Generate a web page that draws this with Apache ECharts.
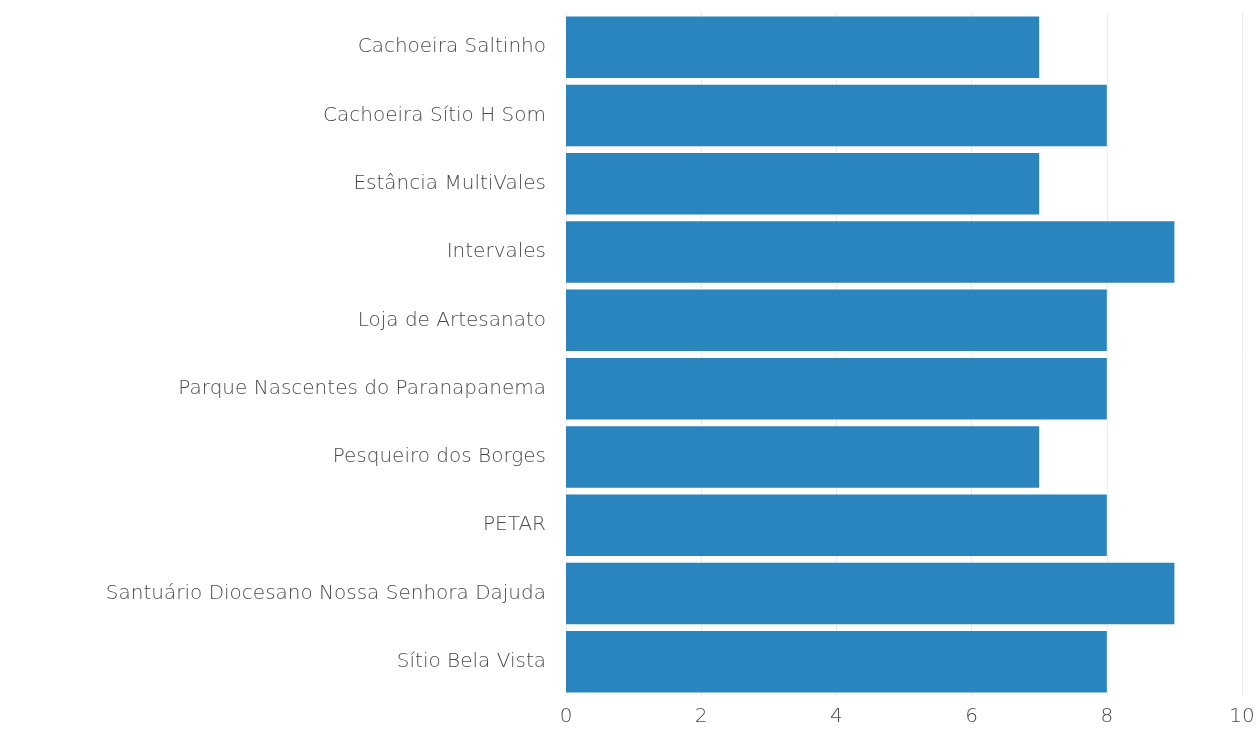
<!DOCTYPE html>
<html>
<head>
<meta charset="utf-8">
<script src="https://cdn.jsdelivr.net/npm/echarts@6/dist/echarts.min.js"></script>
<style>html,body{margin:0;padding:0;background:#fff}#c{width:1258px;height:731px}</style>
</head>
<body>
<div id="c"></div>
<script>
const categories = [
  "Cachoeira Saltinho",
  "Cachoeira Sítio H Som",
  "Estância MultiVales",
  "Intervales",
  "Loja de Artesanato",
  "Parque Nascentes do Paranapanema",
  "Pesqueiro dos Borges",
  "PETAR",
  "Santuário Diocesano Nossa Senhora Dajuda",
  "Sítio Bela Vista"
];
const values = [7, 8, 7, 9, 8, 8, 7, 8, 9, 8];
const xTicks = [0, 2, 4, 6, 8, 10];

const chart = echarts.init(document.getElementById('c'));
chart.setOption({
  animation: false,
  grid: { left: 566, right: 16, top: 13, bottom: 35 },
  xAxis: {
    type: 'value', min: xTicks[0], max: xTicks[xTicks.length - 1], interval: 2,
    axisLine: { show: false }, axisTick: { show: false },
    axisLabel: { color: '#4a4a4a', fontFamily: '"DejaVu Sans"', fontWeight: 200, fontSize: 20, margin: 11 },
    splitLine: { show: true, lineStyle: { color: '#ececec', width: 1 } }
  },
  yAxis: {
    type: 'category', data: categories, inverse: true,
    axisLine: { show: false }, axisTick: { show: false },
    axisLabel: { color: '#4a4a4a', fontFamily: '"DejaVu Sans"', fontWeight: 200, fontSize: 20, margin: 20 }
  },
  series: [{
    type: 'bar', data: values, barCategoryGap: '10%',
    itemStyle: { color: '#2a84bd' }
  }]
});
</script>
</body>
</html>
